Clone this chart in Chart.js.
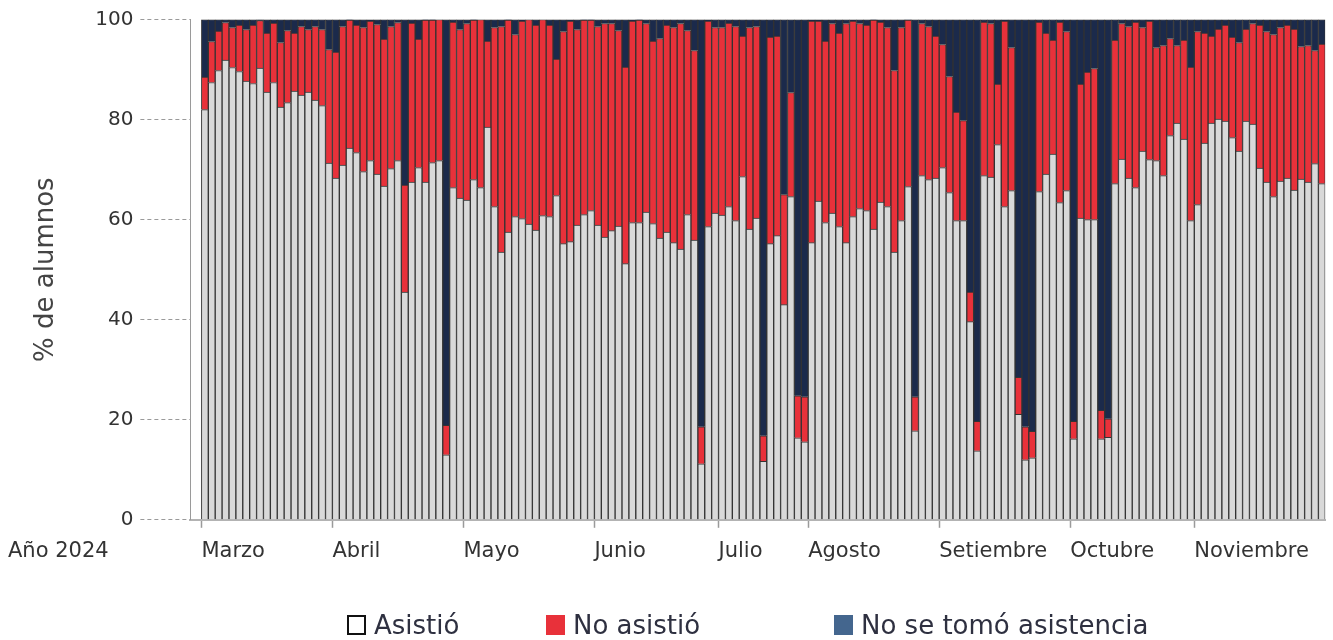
<!DOCTYPE html>
<html lang="es">
<head>
<meta charset="utf-8">
<title>Asistencia 2024</title>
<script src="https://cdn.jsdelivr.net/npm/chart.js@4.4.1/dist/chart.umd.min.js"></script>
<style>
  body { margin: 0; background: #fff; }
  #wrap { position: relative; width: 1333px; height: 640px; }
  .item { position: absolute; top: 610px; display: flex; align-items: center;
          font-family: 'DejaVu Sans', sans-serif; font-size: 26px; color: #2e3040; }
  .box { width: 19px; height: 20px; margin-right: 8px; box-sizing: border-box; }
</style>
</head>
<body>
<div id="wrap">
  <canvas id="chart" width="1333" height="640"></canvas>
  <div class="item" style="left:347px"><span class="box" style="background:#fff;border:2px solid #111"></span>Asistió</div>
  <div class="item" style="left:546px"><span class="box" style="background:#e8313a"></span>No asistió</div>
  <div class="item" style="left:834px"><span class="box" style="background:#44668e"></span>No se tomó asistencia</div>
</div>
<script>
// % de alumnos por día de clase (163 días)
const asistio = [
  82.0, 87.4, 89.8, 91.9, 90.4, 89.6, 87.7, 87.2, 90.3, 85.5, 87.4, 82.5, 83.4, 85.7, 84.9, 85.5, 83.9, 82.8, 71.3,
  68.3, 70.9, 74.3, 73.4, 69.6, 71.8, 69.1, 66.7, 70.2, 71.8, 45.5, 67.5, 70.4, 67.5, 71.4, 71.8, 13.0, 66.4, 64.3,
  63.9, 68.0, 66.4, 78.5, 62.6, 53.5, 57.5, 60.6, 60.2, 59.1, 57.9, 60.8, 60.6, 64.8, 55.2, 55.6, 58.9, 61.0, 61.8,
  58.9, 56.5, 57.8, 58.7, 51.2, 59.4, 59.4, 61.5, 59.2, 56.3, 57.5, 55.4, 54.1, 61.0, 55.9, 11.2, 58.6, 61.3,
  60.9, 62.6, 59.8, 68.6, 58.1, 60.3, 11.7, 55.2, 56.8, 43.0, 64.6, 16.4, 15.6,
  55.4, 63.7, 59.4, 61.3, 58.6, 55.4, 60.6, 62.2, 61.8, 58.1, 63.5, 62.6, 53.5, 59.8, 66.6, 17.8, 68.8, 68.0, 68.3,
  70.4, 65.4, 59.8, 59.8, 39.6, 13.8, 68.8, 68.5, 75.0, 62.6, 65.8, 21.1, 12.0, 12.4, 65.6, 69.1, 73.1, 63.4, 65.8,
  16.2, 60.3, 60.0, 60.0, 16.2, 16.5, 67.2, 72.1, 68.3, 66.4, 73.7, 72.0, 71.8, 68.8, 76.8, 79.3, 76.1, 59.8,
  63.0, 75.3, 79.3, 80.1, 79.7, 76.4, 73.7, 79.7, 79.1, 70.3, 67.5, 64.6, 67.7, 68.3, 65.9, 68.1, 67.5, 71.2, 67.2
];
const noAsistio = [
  6.5, 8.2, 7.9, 7.5, 8.0, 9.3, 10.3, 11.7, 9.5, 11.8, 11.9, 12.9, 14.4, 11.6, 13.7, 12.5, 14.7, 15.2, 22.7,
  25.2, 27.7, 25.6, 25.5, 28.8, 27.9, 29.9, 29.4, 28.4, 27.6, 21.4, 31.8, 25.7, 32.4, 28.5, 28.2, 5.9, 33.1, 33.7,
  35.3, 31.9, 33.6, 17.2, 35.8, 45.1, 42.4, 36.4, 39.5, 40.9, 41.0, 39.2, 38.3, 27.3, 42.4, 44.1, 39.1, 38.9, 38.1,
  39.7, 42.7, 41.4, 39.1, 39.3, 40.3, 40.5, 37.7, 36.5, 39.9, 41.4, 43.0, 45.1, 36.8, 37.9, 7.4, 41.1, 37.1,
  37.5, 36.7, 38.8, 28.1, 40.3, 38.3, 5.1, 41.3, 39.9, 22.0, 20.8, 8.4, 9.0,
  44.3, 36.0, 36.3, 37.9, 38.7, 43.8, 39.1, 37.0, 37.1, 41.8, 36.0, 35.8, 36.3, 38.6, 33.3, 6.8, 30.4, 30.6, 28.4,
  24.6, 23.2, 21.7, 20.0, 5.9, 5.9, 30.7, 30.7, 12.1, 37.1, 28.6, 7.4, 6.6, 5.3, 33.9, 28.2, 22.8, 36.1, 31.8,
  3.5, 26.8, 29.5, 30.2, 5.7, 3.7, 28.7, 27.1, 30.3, 33.1, 24.7, 27.7, 22.6, 26.0, 19.4, 15.5, 19.8, 30.7,
  34.6, 22.0, 17.4, 18.0, 19.2, 20.1, 21.7, 18.4, 20.1, 28.6, 30.1, 32.4, 30.7, 30.6, 32.2, 26.5, 27.3, 22.6, 27.9
];
const noTomada = [
  11.5, 4.4, 2.3, 0.6, 1.6, 1.1, 2.0, 1.1, 0.2, 2.7, 0.7, 4.6, 2.2, 2.7, 1.4, 2.0, 1.4, 2.0, 6.0,
  6.5, 1.4, 0.1, 1.1, 1.6, 0.3, 1.0, 3.9, 1.4, 0.6, 33.1, 0.7, 3.9, 0.1, 0.1, 0.0, 81.1, 0.5, 2.0,
  0.8, 0.1, 0.0, 4.3, 1.6, 1.4, 0.1, 3.0, 0.3, 0.0, 1.1, 0.0, 1.1, 7.9, 2.4, 0.3, 2.0, 0.1, 0.1,
  1.4, 0.8, 0.8, 2.2, 9.5, 0.3, 0.1, 0.8, 4.3, 3.8, 1.1, 1.6, 0.8, 2.2, 6.2, 81.4, 0.3, 1.6,
  1.6, 0.7, 1.4, 3.3, 1.6, 1.4, 83.2, 3.5, 3.3, 35.0, 14.6, 75.2, 75.4,
  0.3, 0.3, 4.3, 0.8, 2.7, 0.8, 0.3, 0.8, 1.1, 0.1, 0.5, 1.6, 10.2, 1.6, 0.1, 75.4, 0.8, 1.4, 3.3,
  5.0, 11.4, 18.5, 20.2, 54.5, 80.3, 0.5, 0.8, 12.9, 0.3, 5.6, 71.5, 81.4, 82.3, 0.5, 2.7, 4.1, 0.5, 2.4,
  80.3, 12.9, 10.5, 9.8, 78.1, 79.8, 4.1, 0.8, 1.4, 0.5, 1.6, 0.3, 5.6, 5.2, 3.8, 5.2, 4.1, 9.5,
  2.4, 2.7, 3.3, 1.9, 1.1, 3.5, 4.6, 1.9, 0.8, 1.1, 2.4, 3.0, 1.6, 1.1, 1.9, 5.4, 5.2, 6.2, 4.9
];

// primer día de clase de cada mes (índice de barra)
const months = ['Marzo', 'Abril', 'Mayo', 'Junio', 'Julio', 'Agosto', 'Setiembre', 'Octubre', 'Noviembre'];
const monthStart = [0, 19, 38, 57, 75, 88, 107, 126, 144];

const FONT = "'DejaVu Sans', sans-serif";

function toPoints(values) {
    return values.map((v, i) => ({ x: i + 0.5, y: v }));
}

// "Año 2024" a la izquierda de los meses
const yearLabel = {
    id: 'yearLabel',
    afterDraw(chart) {
        const xs = chart.scales.x;
        const o = xs.options;
        const ctx = chart.ctx;
        ctx.save();
        ctx.font = '21px ' + FONT;
        ctx.fillStyle = '#333';
        ctx.textAlign = 'left';
        ctx.textBaseline = 'middle';
        ctx.fillText('Año 2024', 8, xs.top + o.grid.tickLength + o.ticks.padding + 21 * 1.2 / 2);
        ctx.restore();
    }
};

const common = { borderColor: '#333', borderWidth: 1, barPercentage: 1, categoryPercentage: 1 };

new Chart(document.getElementById('chart'), {
    type: 'bar',
    data: {
        datasets: [
            Object.assign({ label: 'Asistió', data: toPoints(asistio), backgroundColor: '#d9d9d9' }, common),
            Object.assign({ label: 'No asistió', data: toPoints(noAsistio), backgroundColor: '#e8313a' }, common),
            Object.assign({ label: 'No se tomó asistencia', data: toPoints(noTomada), backgroundColor: '#1b2a4b' }, common)
        ]
    },
    options: {
        responsive: false,
        animation: false,
        layout: { padding: { left: 27, top: 19.5, right: 7.7, bottom: 65 } },
        plugins: {
            legend: { display: false },
            tooltip: { enabled: false }
        },
        scales: {
            x: {
                type: 'linear',
                stacked: true,
                min: -1.6,
                max: 163,
                offset: false,
                afterBuildTicks: (scale) => {
                    scale.ticks = monthStart.map(v => ({ value: v }));
                },
                ticks: {
                    autoSkip: false,
                    maxRotation: 0,
                    align: 'start',
                    padding: 11,
                    color: '#333',
                    font: { family: FONT, size: 21 },
                    callback: (value, index) => months[index]
                },
                grid: { drawOnChartArea: false, offset: false, tickLength: 8, tickColor: '#9a9a9a', tickWidth: 1.5 },
                border: { color: '#b3b3b3', width: 2 }
            },
            y: {
                stacked: true,
                min: 0,
                max: 100,
                ticks: { stepSize: 20, padding: 7, color: '#333', font: { family: FONT, size: 20 } },
                grid: { drawOnChartArea: false, tickLength: 50, tickColor: '#9a9a9a', tickBorderDash: [4, 3], tickWidth: 1 },
                border: { color: '#9a9a9a', dash: [4, 3], width: 1 },
                title: {
                    display: true,
                    text: '% de alumnos',
                    color: '#444',
                    font: { family: FONT, size: 26 },
                    padding: { top: 4, bottom: 26 }
                }
            }
        }
    },
    plugins: [yearLabel]
});
</script>
</body>
</html>
